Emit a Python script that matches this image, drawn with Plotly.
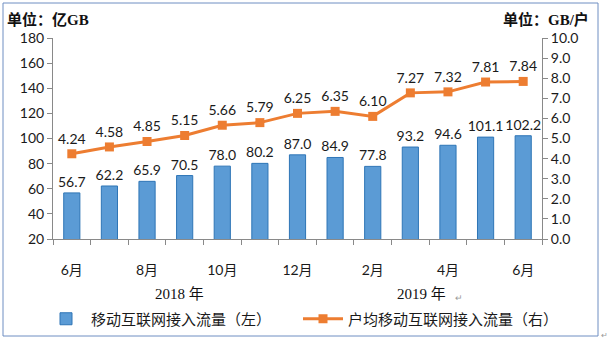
import plotly.graph_objects as go

# Monthly data, June 2018 – June 2019
months = ["6月", "7月", "8月", "9月", "10月", "11月", "12月",
          "1月", "2月", "3月", "4月", "5月", "6月"]
traffic = [56.7, 62.2, 65.9, 70.5, 78.0, 80.2, 87.0, 84.9, 77.8, 93.2, 94.6, 101.1, 102.2]
per_user = [4.24, 4.58, 4.85, 5.15, 5.66, 5.79, 6.25, 6.35, 6.10, 7.27, 7.32, 7.81, 7.84]
shown_ticks = [0, 2, 4, 6, 8, 10, 12]

x = list(range(len(months)))

BLUE = "#5B9BD5"
BLUE_EDGE = "#2E75B6"
ORANGE = "#ED7D31"
AXIS = "#898989"
NUM_FONT = "Lato, Noto Sans CJK SC, sans-serif"
CJK_FONT = "Noto Sans CJK SC, sans-serif"
SERIF = "Liberation Serif, Noto Sans CJK SC, serif"

fig = go.Figure()

fig.add_trace(go.Bar(
    x=x, y=traffic, name="移动互联网接入流量（左）",
    marker=dict(color=BLUE, line=dict(color=BLUE_EDGE, width=1)),
    width=0.43,
    text=[f"{v:.1f}" for v in traffic], textposition="outside",
    constraintext="none", cliponaxis=False,
    textfont=dict(family=NUM_FONT, size=14, color="#1a1a1a"),
))

fig.add_trace(go.Scatter(
    x=x, y=per_user, name="户均移动互联网接入流量（右）", yaxis="y2",
    mode="lines+markers+text",
    line=dict(color=ORANGE, width=3),
    marker=dict(symbol="square", size=9, color=ORANGE),
    text=[f"{v:.2f}" for v in per_user], textposition="top center",
    cliponaxis=False,
    textfont=dict(family=NUM_FONT, size=14, color="#1a1a1a"),
))

W, H = 607, 343
L, R, T, B = 53, 65, 38, 104
pw, ph = W - L - R, H - T - B


def px(xp):
    return (xp - L) / pw


def py(yp):
    return (H - B - yp) / ph


fig.update_layout(
    width=W, height=H,
    margin=dict(l=L, r=R, t=T, b=B, autoexpand=False),
    paper_bgcolor="white", plot_bgcolor="white",
    showlegend=True,
    legend=dict(orientation="h", x=px(41), xanchor="left", y=py(319), yanchor="middle",
                font=dict(family=CJK_FONT, size=15, color="#1a1a1a"),
                itemwidth=40, entrywidth=202, entrywidthmode="pixels",
                tracegroupgap=0, traceorder="normal", bgcolor="rgba(0,0,0,0)"),
    xaxis=dict(
        range=[-0.5, 12.5],
        tickmode="array", tickvals=shown_ticks,
        ticktext=[months[i] for i in shown_ticks],
        ticks="", ticklabelstandoff=18,
        tickfont=dict(family=NUM_FONT, size=14, color="#1a1a1a"),
        showline=True, linecolor=AXIS, linewidth=1,
        showgrid=False, zeroline=False, automargin=False,
        minor=dict(tickmode="array", tickvals=[i - 0.5 for i in range(14)],
                   ticks="outside", ticklen=5, tickcolor=AXIS, showgrid=False),
    ),
    yaxis=dict(
        range=[20, 180], tickmode="linear", tick0=20, dtick=20,
        ticks="outside", ticklen=5, tickcolor=AXIS,
        showline=True, linecolor=AXIS, linewidth=1,
        showgrid=False, zeroline=False, automargin=False,
        tickfont=dict(family=NUM_FONT, size=14, color="#1a1a1a"),
    ),
    yaxis2=dict(
        range=[0, 10], tickmode="linear", tick0=0, dtick=1, tickformat=".1f",
        overlaying="y", side="right",
        ticks="outside", ticklen=5, tickcolor=AXIS,
        showline=True, linecolor=AXIS, linewidth=1,
        showgrid=False, zeroline=False, automargin=False,
        tickfont=dict(family=NUM_FONT, size=14, color="#1a1a1a"),
    ),
)

# Outer frame
fig.add_shape(type="rect", xref="paper", yref="paper",
              x0=px(3), x1=px(598), y0=py(336), y1=py(3),
              line=dict(color="#6E8EC2", width=1), fillcolor="rgba(0,0,0,0)")

ann = [
    dict(text="<b>单位：亿GB</b>", x=px(5), y=py(19), xanchor="left",
         font=dict(family=SERIF, size=15, color="#111")),
    dict(text="<b>单位：GB/户</b>", x=px(591), y=py(19), xanchor="right",
         font=dict(family=SERIF, size=15, color="#111")),
    dict(text="2018 年", x=px(179), y=py(294), xanchor="center",
         font=dict(family=SERIF, size=15, color="#111")),
    dict(text="2019 年", x=px(421), y=py(294), xanchor="center",
         font=dict(family=SERIF, size=15, color="#111")),
    dict(text="↵", x=px(453), y=py(297), xanchor="left",
         font=dict(family=CJK_FONT, size=9, color="#999")),
    dict(text="↵", x=px(599), y=py(334), xanchor="left",
         font=dict(family=CJK_FONT, size=8, color="#999")),
]
for a in ann:
    fig.add_annotation(xref="paper", yref="paper", showarrow=False, yanchor="middle", **a)

fig.write_html("out.html")
